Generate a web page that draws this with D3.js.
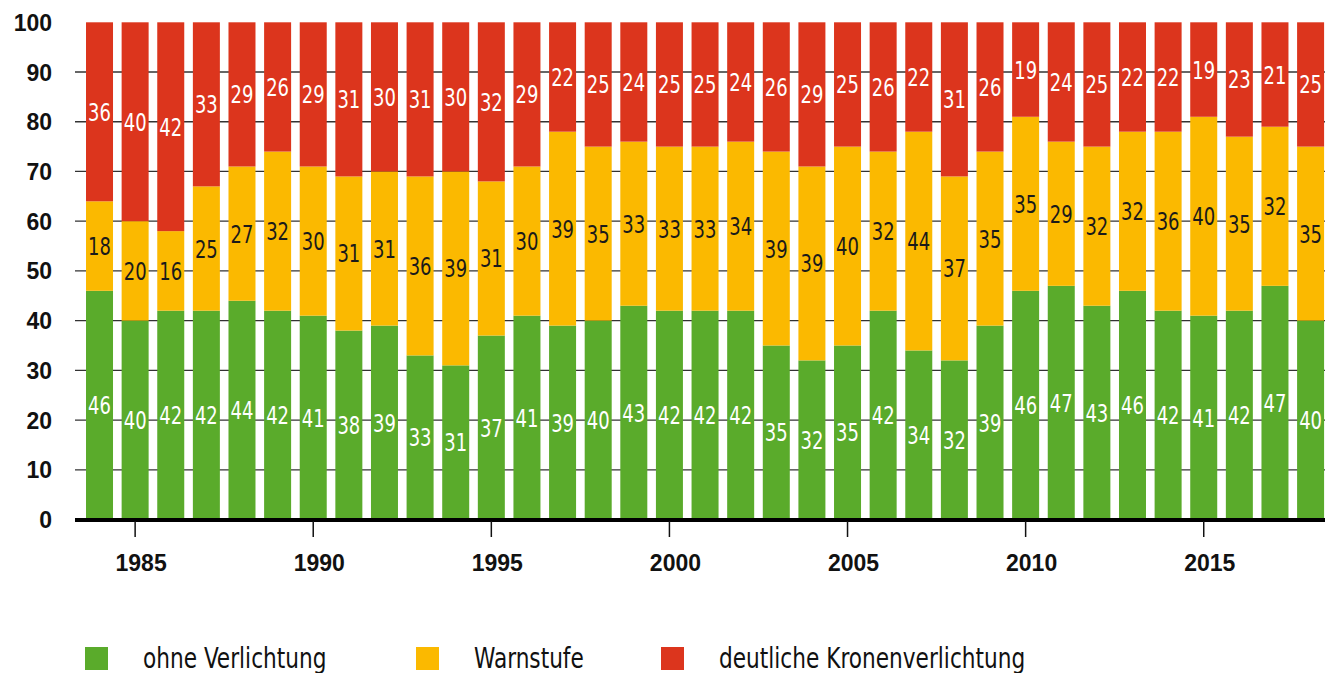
<!DOCTYPE html>
<html>
<head>
<meta charset="utf-8">
<script src="https://cdnjs.cloudflare.com/ajax/libs/d3/7.8.5/d3.min.js"></script>
<style>
  html, body { margin: 0; padding: 0; background: #fff; }
  #chart { width: 1325px; height: 673px; overflow: hidden; }
</style>
</head>
<body>
<div id="chart"></div>
<script>
// Kronenverlichtung, Anteil der Bäume (%) je Jahr
const years = d3.range(1984, 2019);
const ohne = [46, 40, 42, 42, 44, 42, 41, 38, 39, 33, 31, 37, 41, 39, 40, 43, 42, 42, 42, 35, 32, 35, 42, 34, 32, 39, 46, 47, 43, 46, 42, 41, 42, 47, 40];
const warn = [18, 20, 16, 25, 27, 32, 30, 31, 31, 36, 39, 31, 30, 39, 35, 33, 33, 33, 34, 39, 39, 40, 32, 44, 37, 35, 35, 29, 32, 32, 36, 40, 35, 32, 35];
const deutlich = [36, 40, 42, 33, 29, 26, 29, 31, 30, 31, 30, 32, 29, 22, 25, 24, 25, 25, 24, 26, 29, 25, 26, 22, 31, 26, 19, 24, 25, 22, 22, 19, 23, 21, 25];
const yTicks = [0, 10, 20, 30, 40, 50, 60, 70, 80, 90, 100];
const xTicks = [1985, 1990, 1995, 2000, 2005, 2010, 2015];

const seriesNames = ["ohne Verlichtung", "Warnstufe", "deutliche Kronenverlichtung"];
const colors = ["#5aab2b", "#fbb900", "#dc351d"];
const labelColors = ["#ffffff", "#1a1a1a", "#ffffff"];

const width = 1325, height = 673;
const labelFont = "'DejaVu Sans Condensed', 'DejaVu Sans', sans-serif";
const axisFont = "'Liberation Sans', Arial, sans-serif";

const svg = d3.select("#chart").append("svg")
  .attr("width", width)
  .attr("height", height);

// table for the stack
const rows = years.map((yr, i) => ({
  year: yr,
  [seriesNames[0]]: ohne[i],
  [seriesNames[1]]: warn[i],
  [seriesNames[2]]: deutlich[i]
}));
const stacked = d3.stack().keys(seriesNames)(rows);

// scales
const step = 35.62;
const x = d3.scaleBand()
  .domain(years)
  .range([81.7, 81.7 + years.length * step])
  .paddingInner(0.242)
  .paddingOuter(0.121);

const y = d3.scaleLinear()
  .domain([0, 100])
  .range([519.5, 22.3]);

// gridlines behind the bars
svg.append("g")
  .selectAll("line")
  .data(yTicks.filter(t => t > 0 && t < 100))
  .join("line")
  .attr("x1", 75)
  .attr("x2", width)
  .attr("y1", d => y(d))
  .attr("y2", d => y(d))
  .attr("stroke", "#333")
  .attr("stroke-width", 1.3);

// stacked bars
stacked.forEach((layer, si) => {
  const g = svg.append("g");
  g.selectAll("rect")
    .data(layer)
    .join("rect")
    .attr("x", d => x(d.data.year))
    .attr("width", x.bandwidth())
    .attr("y", d => y(d[1]))
    .attr("height", d => y(d[0]) - y(d[1]))
    .attr("fill", colors[si]);

  // value labels, squeezed horizontally to get the narrow look
  g.selectAll("text")
    .data(layer)
    .join("text")
    .attr("transform", d =>
      `translate(${x(d.data.year) + x.bandwidth() / 2},${y((d[0] + d[1]) / 2) + 9}) scale(0.8,1)`)
    .attr("text-anchor", "middle")
    .attr("fill", labelColors[si])
    .style("font-family", labelFont)
    .style("font-size", "25px")
    .text(d => d[1] - d[0]);
});

// y axis labels
svg.append("g")
  .selectAll("text")
  .data(yTicks)
  .join("text")
  .attr("x", 52)
  .attr("y", d => y(d) + 8.5)
  .attr("text-anchor", "end")
  .attr("fill", "#111")
  .style("font-family", axisFont)
  .style("font-weight", "bold")
  .style("font-size", "23px")
  .text(d => d);

// x axis: baseline line, ticks and year labels
svg.append("line")
  .attr("x1", 75)
  .attr("x2", width)
  .attr("y1", 520)
  .attr("y2", 520)
  .attr("stroke", "#000")
  .attr("stroke-width", 4);

const xa = svg.append("g");
xa.selectAll("line")
  .data(xTicks)
  .join("line")
  .attr("x1", d => x(d) + x.bandwidth() / 2)
  .attr("x2", d => x(d) + x.bandwidth() / 2)
  .attr("y1", 521)
  .attr("y2", 537)
  .attr("stroke", "#111")
  .attr("stroke-width", 1.5);

xa.selectAll("text")
  .data(xTicks)
  .join("text")
  .attr("x", d => x(d) + x.bandwidth() / 2 + 6)
  .attr("y", 571)
  .attr("text-anchor", "middle")
  .attr("fill", "#111")
  .style("font-family", axisFont)
  .style("font-weight", "bold")
  .style("font-size", "23px")
  .text(d => d);

// legend
const legendX = [85, 416, 661];
const legend = svg.append("g");
seriesNames.forEach((name, i) => {
  legend.append("rect")
    .attr("x", legendX[i])
    .attr("y", 647)
    .attr("width", 23)
    .attr("height", 23)
    .attr("fill", colors[i]);
  legend.append("text")
    .attr("transform", `translate(${legendX[i] + 58},668) scale(0.86,1)`)
    .attr("fill", "#111")
    .style("font-family", labelFont)
    .style("font-size", "28px")
    .text(name);
});
</script>
</body>
</html>
